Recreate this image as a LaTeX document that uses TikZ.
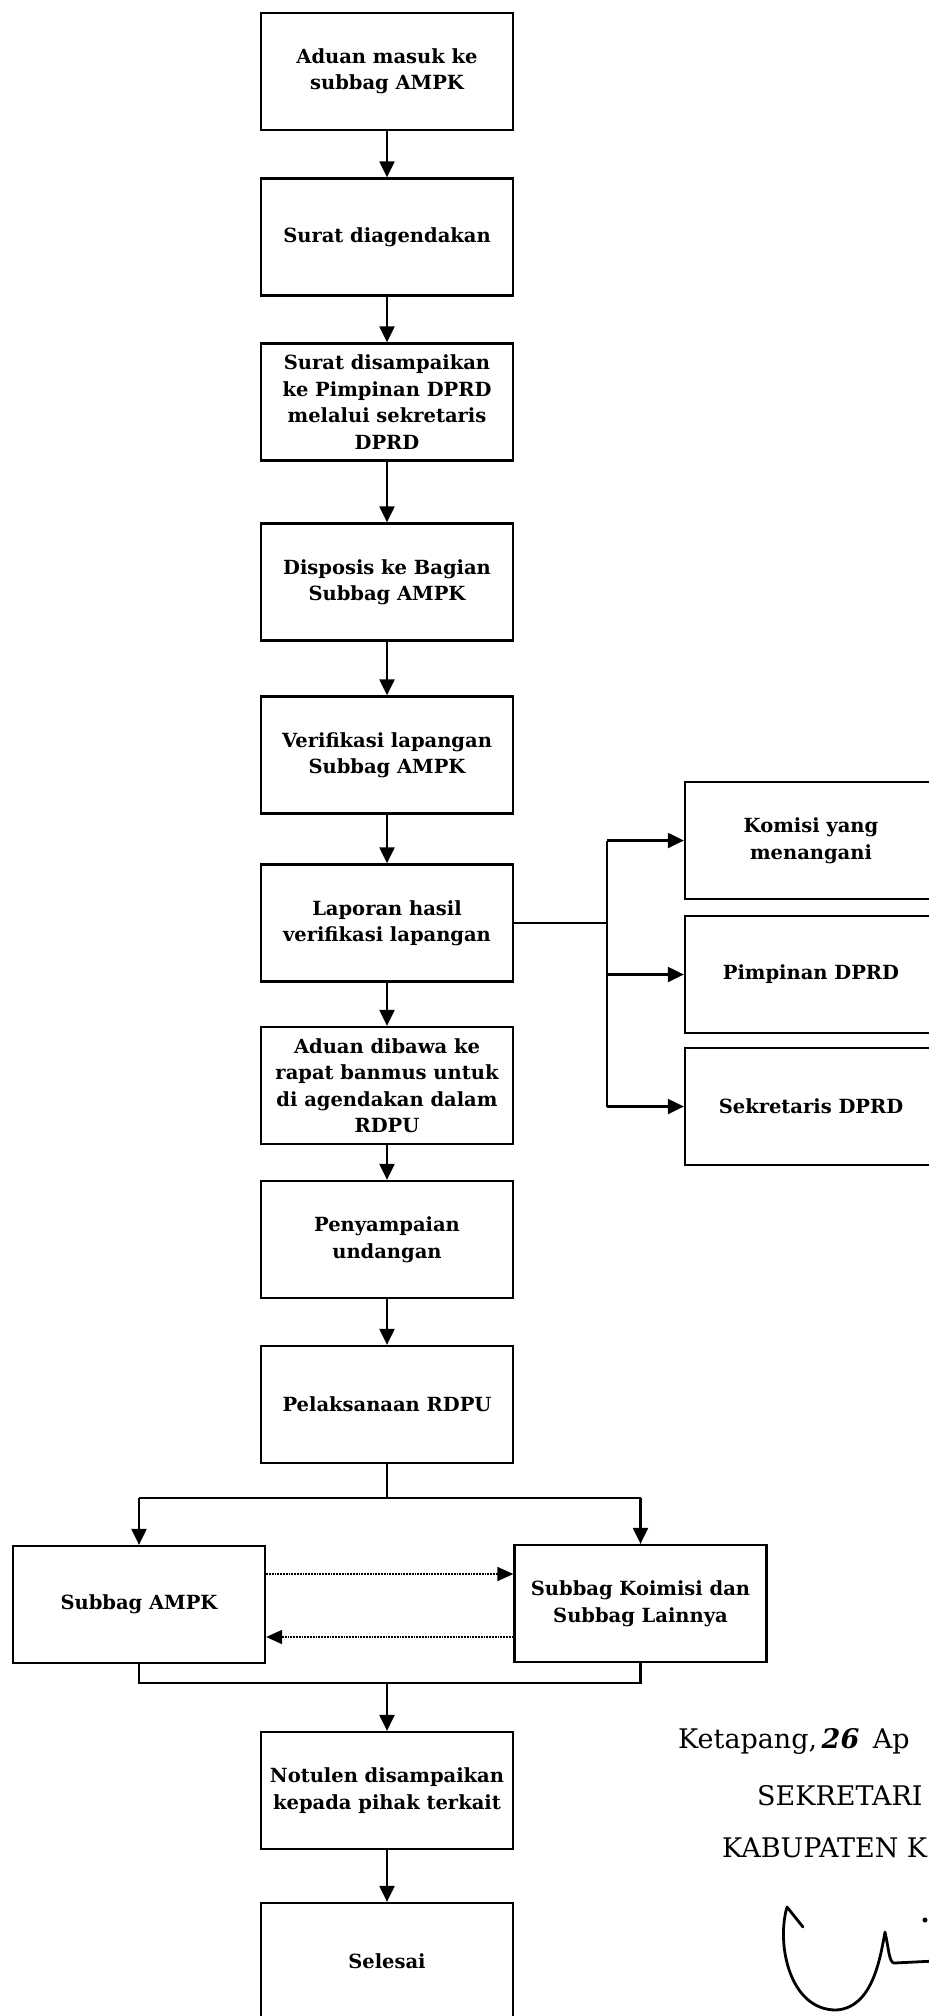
\documentclass[tikz,border=0pt]{standalone}
\usepackage{fontspec}
\setmainfont{DejaVu Serif}
\usetikzlibrary{arrows.meta,calc}

\begin{document}
\begin{tikzpicture}[x=1pt,y=-1pt,
		flowbox/.style={draw, line width=2.3pt, minimum width=252pt, minimum height=117pt, inner sep=0pt, align=center, font=\fontsize{19.5}{26.5}\selectfont\bfseries},
		arr/.style={line width=2.2pt, -{Triangle[length=16pt,width=15pt]}},
		dotarr/.style={line width=1.8pt, densely dotted, -{Triangle[length=16pt,width=14pt]}},
		line/.style={line width=2.2pt},
		signtext/.style={anchor=base west, inner sep=0pt, font=\fontsize{27}{30}\selectfont}]
		%%%%% START %%%%%
		
		\useasboundingbox (0,0) rectangle (929,2016);
		
		% main column
		\node[flowbox] (aduan) at (387, 71.5) {Aduan masuk ke\\subbag AMPK};
		\node[flowbox] (agenda) at (387, 237) {Surat diagendakan};
		\node[flowbox] (sampai) at (387, 402) {Surat disampaikan\\ke Pimpinan DPRD\\melalui sekretaris\\DPRD};
		\node[flowbox] (dispo) at (387, 582) {Disposis ke Bagian\\Subbag AMPK};
		\node[flowbox] (verif) at (387, 755) {Verifikasi lapangan\\Subbag AMPK};
		\node[flowbox] (lapor) at (387, 923) {Laporan hasil\\verifikasi lapangan};
		\node[flowbox] (banmus) at (387, 1085.5) {Aduan dibawa ke\\rapat banmus untuk\\di agendakan dalam\\RDPU};
		\node[flowbox] (undang) at (387, 1239.5) {Penyampaian\\undangan};
		\node[flowbox] (rdpu) at (387, 1404.5) {Pelaksanaan RDPU};
		\node[flowbox] (notulen) at (387, 1790.5) {Notulen disampaikan\\kepada pihak terkait};
		\node[flowbox] (selesai) at (387, 1961.5) {Selesai};
		
		\foreach \a/\b in {aduan/agenda, agenda/sampai, sampai/dispo, dispo/verif, verif/lapor, lapor/banmus, banmus/undang, undang/rdpu, notulen/selesai}
			\draw[arr] (\a.south) -- (\b.north);
		
		% right branch
		\node[flowbox] (komisi) at (811, 840.5) {Komisi yang\\menangani};
		\node[flowbox] (pimpinan) at (811, 974.5) {Pimpinan DPRD};
		\node[flowbox] (sekre) at (811, 1106.5) {Sekretaris DPRD};
		
		\coordinate (split) at (607, 922);
		\draw[line] (lapor.east) -- (lapor.east -| split);
		\draw[line] (split |- komisi.west) -- (split |- sekre.west);
		\foreach \n in {komisi, pimpinan, sekre}
			\draw[arr] (split |- \n.west) -- (\n.west);
		
		% RDPU fork
		\node[flowbox] (subL) at (139, 1604.5) {Subbag AMPK};
		\node[flowbox] (subR) at (640.5, 1603.5) {Subbag Koimisi dan\\Subbag Lainnya};
		
		\coordinate (fork) at (387, 1498);
		\coordinate (join) at (387, 1683);
		\draw[line] (rdpu.south) -- (fork);
		\draw[line] (fork -| subL.north) -- (fork -| subR.north);
		\draw[arr] (fork -| subL.north) -- (subL.north);
		\draw[arr] (fork -| subR.north) -- (subR.north);
		
		\draw[dotarr] ([yshift=30.5pt]subL.east) -- ([yshift=30.5pt]subL.east -| subR.west);
		\draw[dotarr] ([yshift=-33.5pt]subR.west) -- ([yshift=-33.5pt]subR.west -| subL.east);
		
		\draw[line] (subL.south) -- (subL.south |- join) -- (subR.south |- join) -- (subR.south);
		\draw[arr] (join) -- (notulen.north);
		
		% signature block
		\node[signtext] (kota) at (678, 1748) {Ketapang,\,{\bfseries\itshape 26}\enspace Ap};
		\node[signtext] (sekr) at (757, 1805) {SEKRETARI};
		\node[signtext] (kab) at (722, 1857) {KABUPATEN K};
		
		\draw[line width=2.8pt, line cap=round, line join=round] (803, 1927) -- (787, 1907) .. controls (776, 1945) and (790, 2010) .. (836, 2010) .. controls (872, 2008) and (880, 1960) .. (885, 1932) .. controls (889, 1950) and (889, 1962) .. (894, 1963) -- (935, 1961);
		\fill (925, 1920) circle (2.5);
		
		%%%%% END %%%%%
	\end{tikzpicture}
\end{document}
